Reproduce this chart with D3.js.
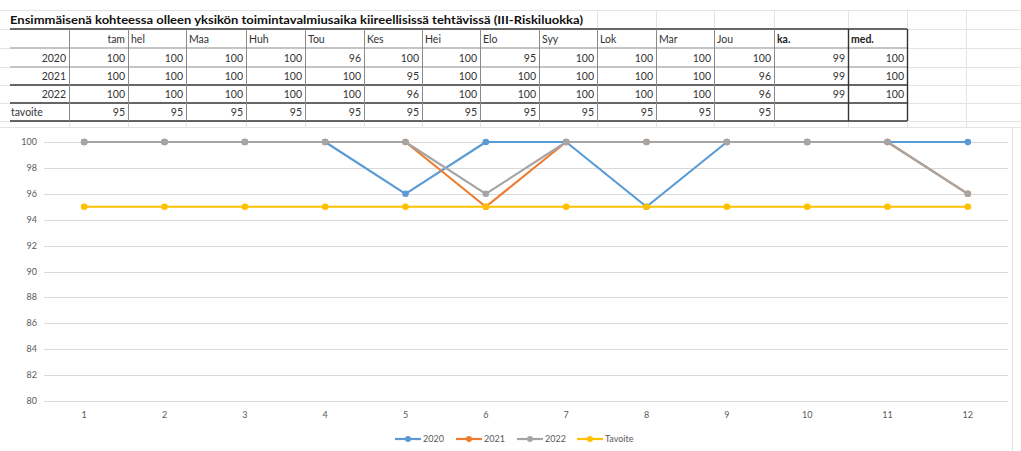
<!DOCTYPE html>
<html>
<head>
<meta charset="utf-8">
<script src="https://cdn.jsdelivr.net/npm/d3@7"></script>
<style>
  html, body { margin: 0; padding: 0; background: #fff; }
  svg { display: block; font-family: Lato, "Open Sans", sans-serif; }
</style>
</head>
<body>
<svg id="chart" width="1021" height="451"></svg>
<script>
/* --- Data --- */
const title = 'Ensimmäisenä kohteessa olleen yksikön toimintavalmiusaika kiireellisissä tehtävissä (III-Riskiluokka)';
const months = ['tam', 'hel', 'Maa', 'Huh', 'Tou', 'Kes', 'Hei', 'Elo', 'Syy', 'Lok', 'Mar', 'Jou'];
const years = ['2020', '2021', '2022'];
const values2020 = [100, 100, 100, 100, 96, 100, 100, 95, 100, 100, 100, 100];
const values2021 = [100, 100, 100, 100, 100, 95, 100, 100, 100, 100, 100, 96];
const values2022 = [100, 100, 100, 100, 100, 96, 100, 100, 100, 100, 100, 96];
const targetLabel = 'tavoite';
const targetValues = [95, 95, 95, 95, 95, 95, 95, 95, 95, 95, 95, 95];
const averages = [99, 99, 99];
const medians = [100, 100, 100];
const xTicks = [1, 2, 3, 4, 5, 6, 7, 8, 9, 10, 11, 12];
const yTicks = [80, 82, 84, 86, 88, 90, 92, 94, 96, 98, 100];
const legendLabels = ['2020', '2021', '2022', 'Tavoite'];

/* --- Layout --- */
const svg = d3.select('#chart');
const colEdges = [10, 69, 128, 186, 246, 305, 364, 422, 480, 539, 597, 656, 714, 774, 848, 907];
const rowEdges = [29, 48, 67, 85, 103, 121];
const lightGrid = '#e4e4e4';

/* --- Spreadsheet background grid --- */
const bgCols = [69, 128, 186, 246, 305, 364, 422, 480, 539, 597, 656, 714, 774, 848, 907, 966];
svg.append('g').selectAll('line.h')
  .data([10, ...rowEdges, 127])
  .join('line')
  .attr('x1', 0).attr('x2', 1021)
  .attr('y1', d => d + 0.5).attr('y2', d => d + 0.5)
  .attr('stroke', lightGrid);
svg.append('g').selectAll('line.v')
  .data(bgCols)
  .join('line')
  .attr('x1', d => d + 0.5).attr('x2', d => d + 0.5)
  .attr('y1', 10).attr('y2', 128)
  .attr('stroke', lightGrid);

// title covers grid under its text
svg.append('rect')
  .attr('x', 9).attr('y', 11).attr('width', 578).attr('height', 17)
  .attr('fill', '#fff');
svg.append('text')
  .attr('x', 10).attr('y', 24)
  .attr('font-size', 12).attr('font-weight', 'bold')
  .attr('fill', '#111')
  .attr('textLength', 573).attr('lengthAdjust', 'spacingAndGlyphs')
  .text(title);

/* --- Table --- */
const table = svg.append('g');
table.append('rect')
  .attr('x', colEdges[0]).attr('y', rowEdges[0])
  .attr('width', colEdges[colEdges.length - 1] - colEdges[0])
  .attr('height', rowEdges[rowEdges.length - 1] - rowEdges[0])
  .attr('fill', '#fff');

// horizontal rules
const hStyle = [
  { w: 1.6, c: '#333' }, { w: 1, c: '#8a8a8a' }, { w: 1, c: '#8a8a8a' },
  { w: 1.6, c: '#333' }, { w: 1.6, c: '#333' }, { w: 1.6, c: '#333' }
];
table.selectAll('line.hr')
  .data(rowEdges)
  .join('line')
  .attr('x1', colEdges[0]).attr('x2', colEdges[colEdges.length - 1])
  .attr('y1', d => d).attr('y2', d => d)
  .attr('stroke', (_, i) => hStyle[i].c)
  .attr('stroke-width', (_, i) => hStyle[i].w);

// vertical rules
table.selectAll('line.vr')
  .data(colEdges.slice(1))
  .join('line')
  .attr('x1', d => d + 0.5).attr('x2', d => d + 0.5)
  .attr('y1', rowEdges[0]).attr('y2', rowEdges[rowEdges.length - 1])
  .attr('stroke', d => (d >= 848 ? '#333' : '#8a8a8a'))
  .attr('stroke-width', d => (d >= 848 ? 1.4 : 1));

const cellFont = 10.5;
const textY = i => (rowEdges[i] + rowEdges[i + 1]) / 2 + 4;

// header row
months.forEach((m, j) => {
  const right = j === 0;
  table.append('text')
    .attr('x', right ? colEdges[j + 2] - 3 : colEdges[j + 1] + 3)
    .attr('y', textY(0))
    .attr('text-anchor', right ? 'end' : 'start')
    .attr('font-size', cellFont).attr('fill', '#333')
    .text(m);
});
['ka.', 'med.'].forEach((h, k) => {
  table.append('text')
    .attr('x', colEdges[13 + k] + 3).attr('y', textY(0))
    .attr('font-size', cellFont).attr('font-weight', 'bold').attr('fill', '#222')
    .text(h);
});

// data rows
const rows = [
  { label: years[0], vals: values2020, ka: averages[0], med: medians[0] },
  { label: years[1], vals: values2021, ka: averages[1], med: medians[1] },
  { label: years[2], vals: values2022, ka: averages[2], med: medians[2] },
  { label: targetLabel, vals: targetValues, ka: '', med: '' }
];
rows.forEach((r, i) => {
  const y = textY(i + 1);
  const isTarget = r.label === targetLabel;
  table.append('text')
    .attr('x', isTarget ? colEdges[0] + 1 : colEdges[1] - 3).attr('y', y)
    .attr('text-anchor', isTarget ? 'start' : 'end')
    .attr('font-size', cellFont).attr('fill', '#333')
    .text(r.label);
  [...r.vals, r.ka, r.med].forEach((v, j) => {
    table.append('text')
      .attr('x', colEdges[j + 2] - 3).attr('y', y)
      .attr('text-anchor', 'end')
      .attr('font-size', cellFont).attr('fill', '#333')
      .text(v);
  });
});

/* --- Chart area --- */
const chart = svg.append('g');
chart.append('rect')
  .attr('x', 0).attr('y', 128).attr('width', 1012).attr('height', 323)
  .attr('fill', '#fff');
chart.append('line')
  .attr('x1', 1012.5).attr('x2', 1012.5).attr('y1', 128).attr('y2', 451)
  .attr('stroke', '#e0e0e0');

const x = d3.scaleBand().domain(xTicks).range([44, 1008]);
const cx = d => x(d) + x.bandwidth() / 2;
const y = d3.scaleLinear().domain([80, 100]).range([401, 142]);

// gridlines
chart.append('g').selectAll('line')
  .data(yTicks)
  .join('line')
  .attr('x1', 44).attr('x2', 1008)
  .attr('y1', d => Math.round(y(d)) + 0.5).attr('y2', d => Math.round(y(d)) + 0.5)
  .attr('stroke', '#d9d9d9');

// y tick labels
chart.append('g').selectAll('text')
  .data(yTicks)
  .join('text')
  .attr('x', 37).attr('y', d => y(d) + 3)
  .attr('text-anchor', 'end')
  .attr('font-size', 9).attr('fill', '#595959')
  .text(d => d);

// x tick labels
chart.append('g').selectAll('text')
  .data(xTicks)
  .join('text')
  .attr('x', d => cx(d)).attr('y', 418)
  .attr('text-anchor', 'middle')
  .attr('font-size', 9).attr('fill', '#595959')
  .text(d => d);

/* --- Series --- */
const series = [
  { name: legendLabels[0], vals: values2020, color: '#5b9bd5' },
  { name: legendLabels[1], vals: values2021, color: '#ed7d31' },
  { name: legendLabels[2], vals: values2022, color: '#a5a5a5' },
  { name: legendLabels[3], vals: targetValues, color: '#ffc000' }
];
const line = d3.line()
  .x((_, i) => cx(xTicks[i]))
  .y(d => y(d));

series.forEach(s => {
  const g = chart.append('g');
  g.append('path')
    .attr('d', line(s.vals))
    .attr('fill', 'none')
    .attr('stroke', s.color)
    .attr('stroke-width', 2.2)
    .attr('stroke-linejoin', 'round');
  g.selectAll('circle')
    .data(s.vals)
    .join('circle')
    .attr('cx', (_, i) => cx(xTicks[i]))
    .attr('cy', d => y(d))
    .attr('r', 3.3)
    .attr('fill', s.color);
});

/* --- Legend --- */
const legendX = [395, 456, 517, 577];
const legend = chart.append('g');
series.forEach((s, i) => {
  const lx = legendX[i];
  legend.append('line')
    .attr('x1', lx).attr('x2', lx + 26)
    .attr('y1', 439).attr('y2', 439)
    .attr('stroke', s.color).attr('stroke-width', 2.2);
  legend.append('circle')
    .attr('cx', lx + 13).attr('cy', 439).attr('r', 3)
    .attr('fill', s.color);
  legend.append('text')
    .attr('x', lx + 28).attr('y', 442)
    .attr('font-size', 9).attr('fill', '#595959')
    .text(s.name);
});
</script>
</body>
</html>
